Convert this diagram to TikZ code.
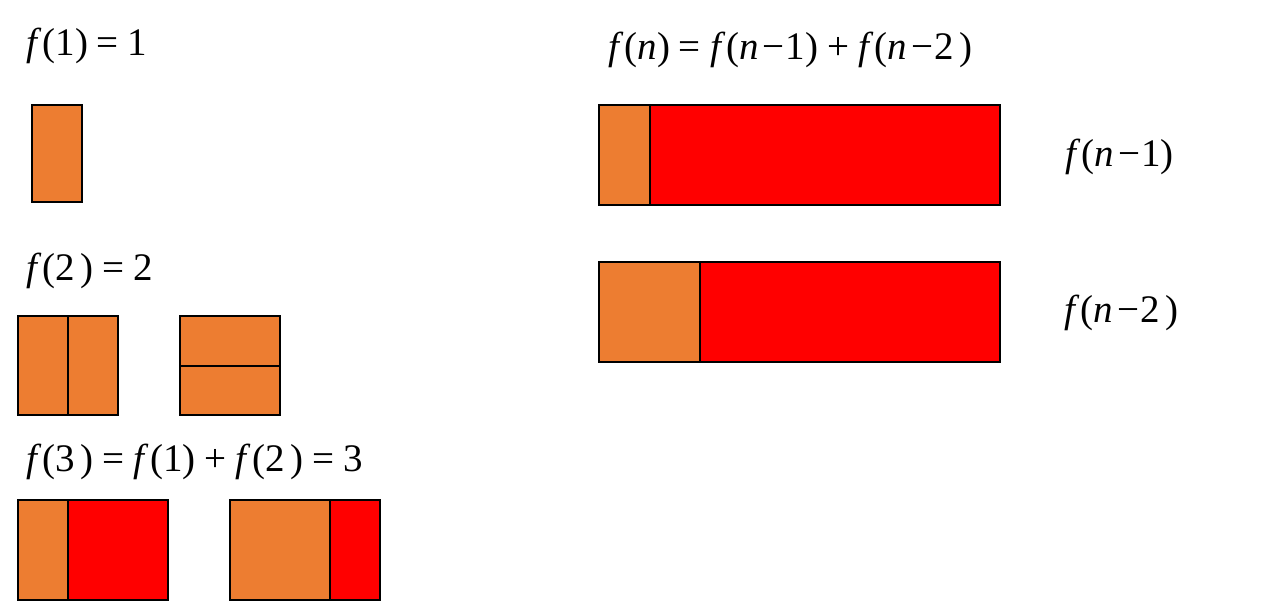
\documentclass[tikz,border=0pt]{standalone}
\usepackage{fontspec}
\setmainfont{Liberation Serif}
\newfontfamily\eqfont{Liberation Serif}
\definecolor{tileorange}{HTML}{ED7D31}
\definecolor{tilered}{HTML}{FF0000}
\newcommand{\eqop}[1]{\hspace{9pt}#1\hspace{9pt}}
\newcommand{\cpar}{\hspace{6pt})}
\newcommand{\nmin}{\hspace{4pt}−\hspace{1pt}}
\newcommand{\fn}{\textit{f}\kern1pt(}
\begin{document}
\begin{tikzpicture}[x=1pt,y=-1pt,
  eq/.style={anchor=base west, inner sep=0pt, font=\eqfont\fontsize{39}{44}\selectfont},
  otile/.style={fill=tileorange, draw=black, line width=2pt},
  rtile/.style={fill=tilered, draw=black, line width=2pt}]
\useasboundingbox (0,0) rectangle (1263,611);
% texts
\node[eq] (t1) at (26,55) {\fn1)\eqop{=}1};
\node[eq] (t2) at (26,280) {\fn2\cpar\eqop{=}2};
\node[eq] (t3) at (26,471) {\fn3\cpar\eqop{=}\fn1)\eqop{+}\fn2\cpar\eqop{=}3};
\node[eq] (tn) at (608,59) {\fn\textit{n})\eqop{=}\fn\textit{n}\nmin1)\eqop{+}\fn\textit{n}\nmin2\cpar};
\node[eq] (tn1) at (1065,166) {\fn\textit{n}\nmin1)};
\node[eq] (tn2) at (1064,322) {\fn\textit{n}\nmin2\cpar};
% f(1)
\draw[otile] (32,105) rectangle (82,202);
% f(2) left
\draw[otile] (18,316) rectangle (68,415);
\draw[otile] (68,316) rectangle (118,415);
% f(2) right
\draw[otile] (180,316) rectangle (280,366);
\draw[otile] (180,366) rectangle (280,415);
% f(3) left
\draw[otile] (18,500) rectangle (68,600);
\draw[rtile] (68,500) rectangle (168,600);
% f(3) right
\draw[otile] (230,500) rectangle (330,600);
\draw[rtile] (330,500) rectangle (380,600);
% f(n-1)
\draw[otile] (599,105) rectangle (650,205);
\draw[rtile] (650,105) rectangle (1000,205);
% f(n-2)
\draw[otile] (599,262) rectangle (700,362);
\draw[rtile] (700,262) rectangle (1000,362);
\end{tikzpicture}
\end{document}
